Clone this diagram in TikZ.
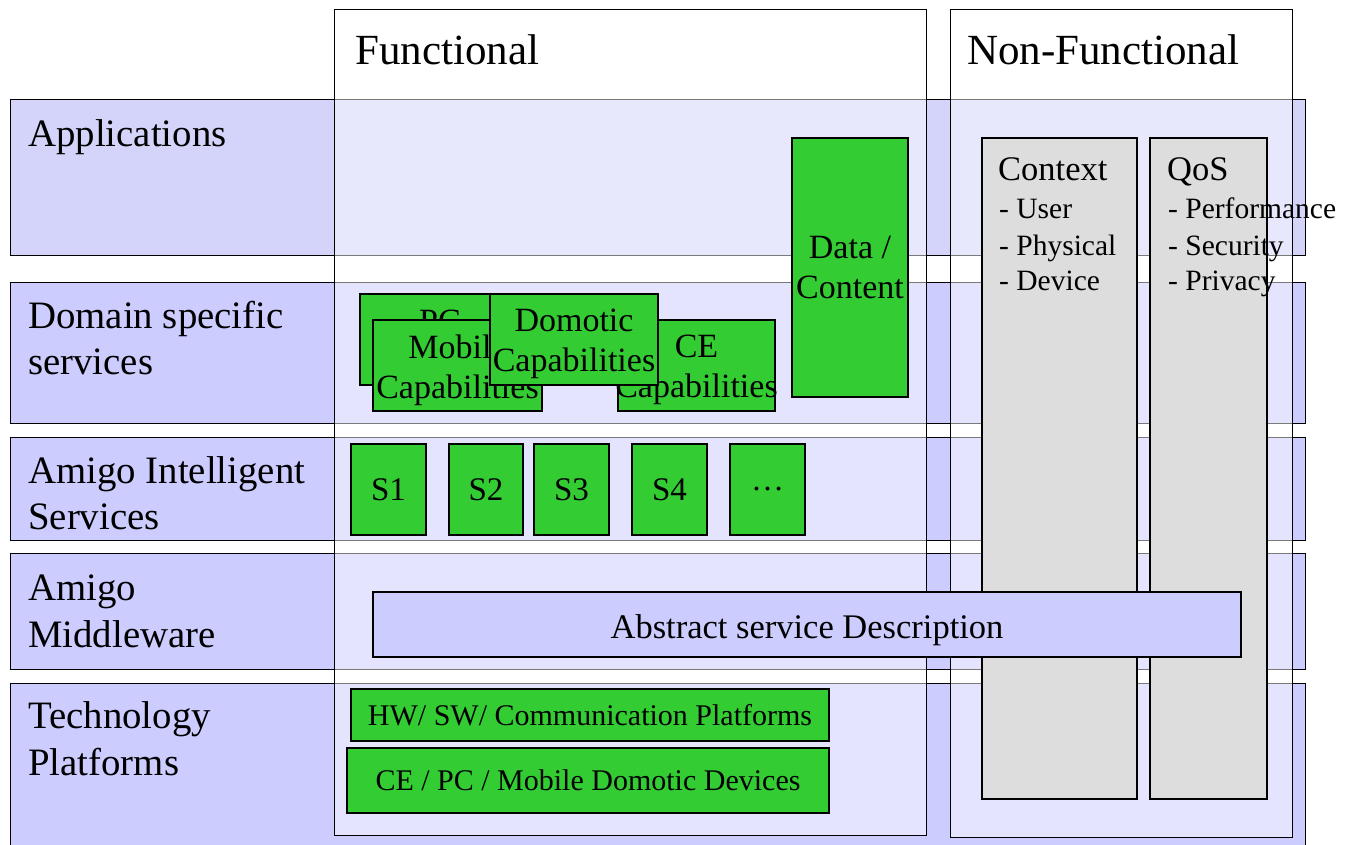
\documentclass[tikz,border=0pt]{standalone}
\usepackage{fontspec}
\setmainfont{Liberation Serif}
\definecolor{lav}{RGB}{204,204,255}
\definecolor{lavapp}{RGB}{212,212,250}
\definecolor{grn}{RGB}{51,204,51}
\definecolor{ctxgrey}{RGB}{221,221,221}
\begin{document}
\begin{tikzpicture}[x=1pt,y=-1pt,
  box/.style={draw=black, line width=1pt, inner sep=0pt, outer sep=0pt, anchor=north west},
  row/.style={box, fill=lav, minimum width=1295pt},
  col/.style={box, fill=white, fill opacity=0.48},
  gbox/.style={box, fill=grn, line width=1.3pt},
  greybox/.style={box, fill=ctxgrey, line width=1.3pt},
  gtext/.style={inner sep=0pt, align=center, font=\fontsize{34}{40}\selectfont},
  stext/.style={inner sep=0pt, font=\fontsize{33}{40}\selectfont},
  ptext/.style={inner sep=0pt, font=\fontsize{30}{36}\selectfont},
  rowlbl/.style={inner sep=0pt, anchor=base west, font=\fontsize{38.8}{46}\selectfont},
  title/.style={inner sep=0pt, anchor=base west, font=\fontsize{43}{50}\selectfont},
  nfhead/.style={inner sep=0pt, anchor=base west, font=\fontsize{34.5}{40}\selectfont},
  nfitem/.style={inner sep=0pt, anchor=base west, font=\fontsize{29.5}{36}\selectfont}
]
\useasboundingbox (0,0) rectangle (1356,845);
\fill[white] (0,0) rectangle (1356,845);

% layer rows
\node[row, fill=lavapp, minimum height=155pt] (rApp) at (10,100) {};
\node[row, minimum height=141pt] (rDom) at (10,282) {};
\node[row, minimum height=103pt] (rAis) at (10,437) {};
\node[row, minimum height=116pt] (rMw) at (10,553) {};
\node[row, minimum height=190pt] (rTp) at (10,683) {};

% row labels
\node[rowlbl] (lApp) at (28,147) {Applications};
\node[rowlbl] (lDom1) at (28,328) {Domain specific};
\node[rowlbl] (lDom2) at (28,374) {services};
\node[rowlbl] (lAis1) at (28,483) {Amigo Intelligent};
\node[rowlbl] (lAis2) at (28,529) {Services};
\node[rowlbl] (lMw1) at (28,600) {Amigo};
\node[rowlbl] (lMw2) at (28,647) {Middleware};
\node[rowlbl] (lTp1) at (28,728) {Technology};
\node[rowlbl] (lTp2) at (28,775) {Platforms};

% columns
\node[col, minimum width=592pt, minimum height=825pt] (cFun) at (334,10) {};
\node[col, minimum width=342pt, minimum height=827pt] (cNF) at (950,10) {};
\node[title] (tFun) at (355,65) {Functional};
\node[title] (tNF) at (967,65) {Non-Functional};

% domain specific services
\node[gbox, minimum width=160pt, minimum height=91pt] (bPC) at (360,294) {};
\node[gtext, anchor=base] (xPC) at (440,332) {PC};
\node[gbox, minimum width=169pt, minimum height=91pt] (bMob) at (373,320) {};
\node[gtext, yshift=-4.5pt] (xMob) at (bMob.center) {Mobile\\Capabilities};
\node[gbox, minimum width=157pt, minimum height=91pt] (bCE) at (618,320) {};
\node[gtext, yshift=-4.5pt] (xCE) at (bCE.center) {CE\\Capabilities};
\node[gbox, minimum width=168pt, minimum height=91pt] (bDom) at (490,294) {};
\node[gtext, yshift=-4.5pt] (xDom) at (bDom.center) {Domotic\\Capabilities};
\node[gbox, minimum width=116pt, minimum height=259pt] (bData) at (792,138) {};
\node[gtext] (xData) at (bData.center) {Data /\\Content};

% intelligent services
\node[gbox, minimum width=75pt, minimum height=91pt] (bS1) at (351,444) {};
\node[stext] (xS1) at (bS1.center) {S1};
\node[gbox, minimum width=74pt, minimum height=91pt] (bS2) at (449,444) {};
\node[stext] (xS2) at (bS2.center) {S2};
\node[gbox, minimum width=75pt, minimum height=91pt] (bS3) at (534,444) {};
\node[stext] (xS3) at (bS3.center) {S3};
\node[gbox, minimum width=75pt, minimum height=91pt] (bS4) at (632,444) {};
\node[stext] (xS4) at (bS4.center) {S4};
\node[gbox, minimum width=75pt, minimum height=91pt] (bS5) at (730,444) {};
\node[stext] (xS5) at (bS5.center) {…};

% technology platforms
\node[gbox, minimum width=478pt, minimum height=52pt] (bHW) at (351,689) {};
\node[ptext] (xHW) at (bHW.center) {HW/ SW/ Communication Platforms};
\node[gbox, minimum width=482pt, minimum height=65pt] (bDev) at (347,748) {};
\node[ptext] (xDev) at (bDev.center) {CE / PC / Mobile Domotic Devices};

% non-functional
\node[greybox, minimum width=155pt, minimum height=661pt] (bCtx) at (982,138) {};
\node[nfhead] (hCtx) at (998,180) {Context};
\node[nfitem] (iCtx1) at (999,218) {- User};
\node[nfitem] (iCtx2) at (999,255) {- Physical};
\node[nfitem] (iCtx3) at (999,290) {- Device};
\node[greybox, minimum width=117pt, minimum height=661pt] (bQoS) at (1150,138) {};
\node[nfhead] (hQoS) at (1167,180) {QoS};
\node[nfitem] (iQoS1) at (1168,218) {- Performance};
\node[nfitem] (iQoS2) at (1168,255) {- Security};
\node[nfitem] (iQoS3) at (1168,290) {- Privacy};

% abstract service description
\node[box, fill=lav, line width=1.3pt, minimum width=868pt, minimum height=65pt] (bAbs) at (373,592) {};
\node[gtext, font=\fontsize{34.5}{40}\selectfont, yshift=-5.5pt] (xAbs) at (bAbs.center) {Abstract service Description};
\end{tikzpicture}
\end{document}
